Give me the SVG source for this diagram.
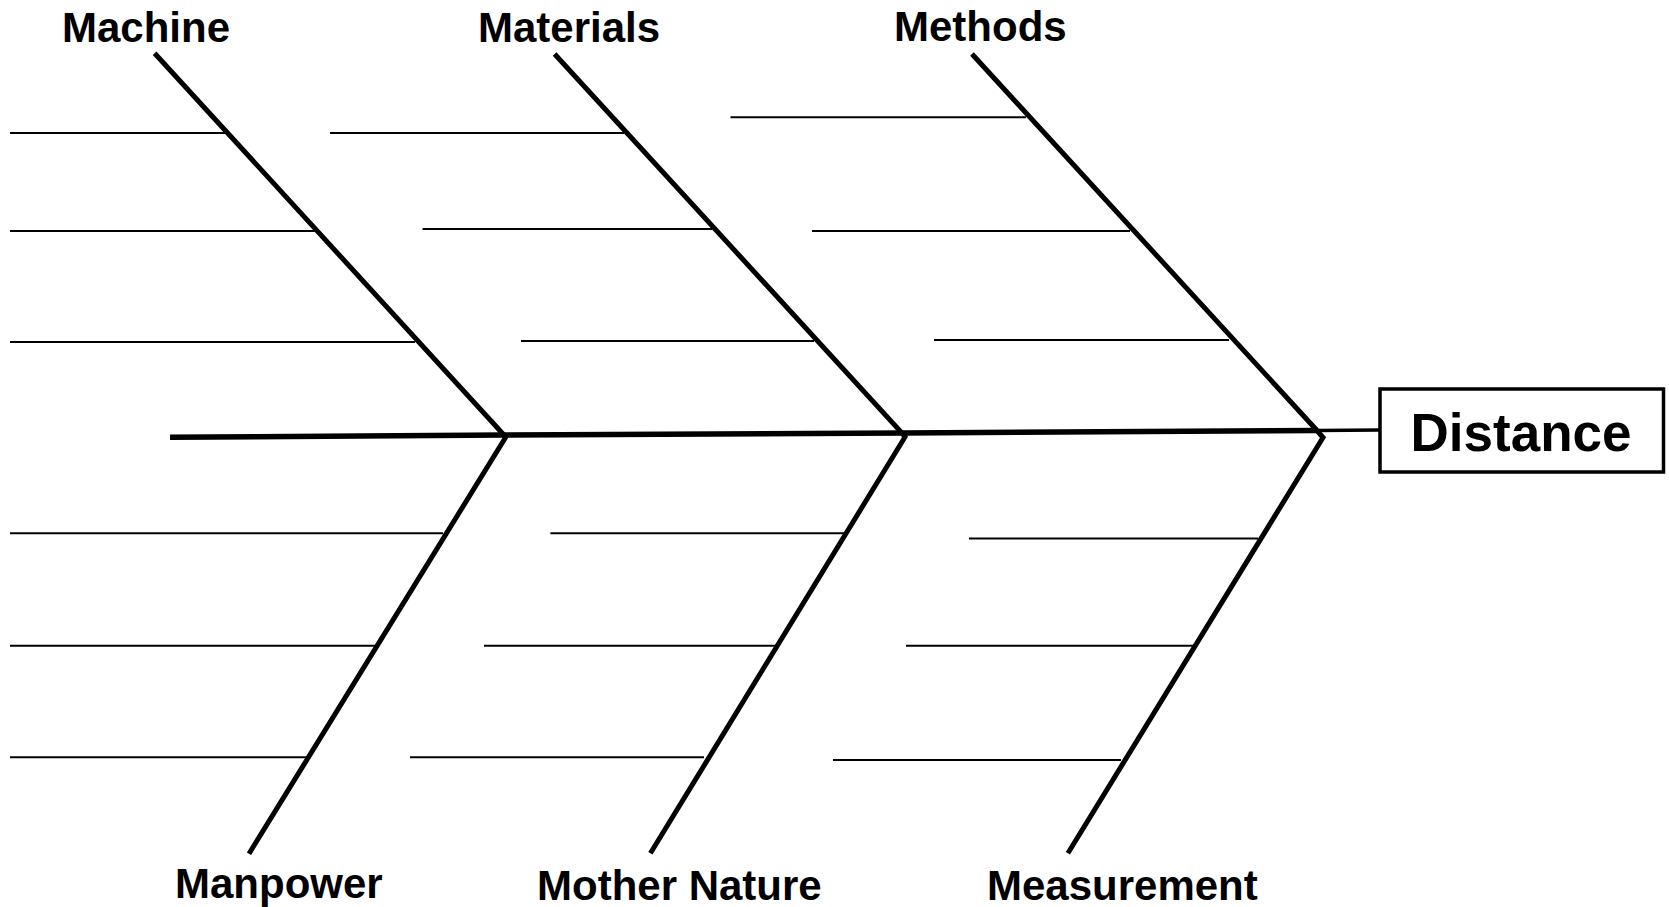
<svg xmlns="http://www.w3.org/2000/svg" width="1669" height="907" viewBox="0 0 1669 907">
<style>
.lbl{font-family:"Liberation Sans",Arial,sans-serif;font-weight:bold;font-size:42px;fill:#000}
.bone{stroke:#000;stroke-width:5;fill:none;stroke-linejoin:miter}
.rib{stroke:#000;stroke-width:2;fill:none}
.spine{stroke:#000;stroke-width:5.5;fill:none}
</style>
<rect width="1669" height="907" fill="#fff"/>
<g id="connectors">
<path class="spine" d="M170,437.3 L504,435 L903,433 L1318,430.5"/>
<path d="M1318,430.5 L1380,430" stroke="#000" stroke-width="3.5" fill="none"/>
<path class="bone" d="M154.6,53.3 L504,435 L505.5,437.5 L249,853.7"/>
<path class="bone" d="M554.6,54 L902,433 L905,437 L650.4,853.3"/>
<path class="bone" d="M972,54 L1317,430.5 L1323,437.5 L1067.9,853.3"/>
<g class="rib-lines">
<line class="rib" x1="10" y1="133" x2="225" y2="133"/>
<line class="rib" x1="10" y1="231" x2="315" y2="231"/>
<line class="rib" x1="10" y1="342" x2="415" y2="342"/>
<line class="rib" x1="330" y1="133" x2="624" y2="133"/>
<line class="rib" x1="422.5" y1="229" x2="712" y2="229"/>
<line class="rib" x1="521" y1="341" x2="814" y2="341"/>
<line class="rib" x1="730.5" y1="117.3" x2="1026" y2="117.3"/>
<line class="rib" x1="812" y1="231" x2="1130" y2="231"/>
<line class="rib" x1="934" y1="340" x2="1229" y2="340"/>
<line class="rib" x1="10" y1="533.3" x2="443" y2="533.3"/>
<line class="rib" x1="10" y1="645.7" x2="377" y2="645.7"/>
<line class="rib" x1="10" y1="757.3" x2="307" y2="757.3"/>
<line class="rib" x1="550.4" y1="533.3" x2="844" y2="533.3"/>
<line class="rib" x1="484" y1="645.7" x2="776" y2="645.7"/>
<line class="rib" x1="410" y1="757.3" x2="704" y2="757.3"/>
<line class="rib" x1="969" y1="538.5" x2="1258" y2="538.5"/>
<line class="rib" x1="906" y1="645.7" x2="1193" y2="645.7"/>
<line class="rib" x1="833" y1="760" x2="1121" y2="760"/>
</g>
</g>
<g id="effect">
<rect x="1380" y="389" width="283.5" height="83" fill="#fff" stroke="#000" stroke-width="3.5"/>
<text class="lbl" x="1521" y="451" text-anchor="middle" style="font-size:53px">Distance</text>
</g>
<g id="machine"><text class="lbl" x="62" y="41.5">Machine</text></g>
<g id="materials"><text class="lbl" x="478" y="41.5">Materials</text></g>
<g id="methods"><text class="lbl" x="894" y="40.7">Methods</text></g>
<g id="manpower"><text class="lbl" x="175" y="897.5">Manpower</text></g>
<g id="mother-nature"><text class="lbl" x="537" y="899.5">Mother Nature</text></g>
<g id="measurement"><text class="lbl" x="987" y="899.5">Measurement</text></g>
</svg>
